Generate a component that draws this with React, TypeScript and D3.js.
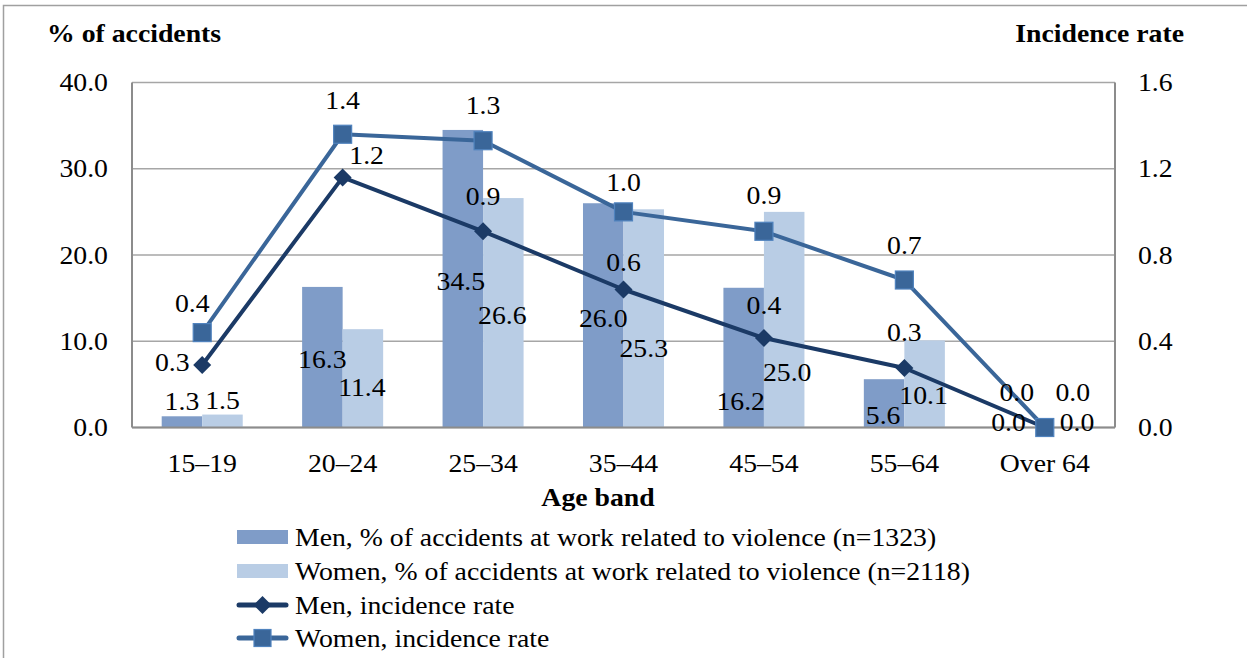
import React from 'react';
import * as d3 from 'd3';

const categories = ['15–19', '20–24', '25–34', '35–44', '45–54', '55–64', 'Over 64'];
const menPct = [1.3, 16.3, 34.5, 26.0, 16.2, 5.6, 0.0];
const womenPct = [1.5, 11.4, 26.6, 25.3, 25.0, 10.1, 0.0];
const menRate = [0.29, 1.16, 0.91, 0.64, 0.415, 0.276, 0.0];
const womenRate = [0.44, 1.36, 1.33, 1.0, 0.91, 0.684, 0.0];
const leftTicks = [0, 10, 20, 30, 40];
const rightTicks = [0, 0.4, 0.8, 1.2, 1.6];
const legendLabels = [
  'Men, % of accidents at work related to violence (n=1323)',
  'Women, % of accidents at work related to violence (n=2118)',
  'Men, incidence rate',
  'Women, incidence rate',
];

// label nudges (px) relative to each mark
const menPctNudge = [[0, -15], [0, 73], [-2, 152], [0, 115], [-3, 114], [-1, 36], [-16, -5.5]];
const womenPctNudge = [[0, -14], [-1, 58], [-1, 117], [0, 139], [3, 161], [-1, 55], [12, -5.5]];
const menRateNudge = [[-30, -2], [24, -22], [0, -35], [0, -27], [0, -33], [0, -36], [-28, -35.5]];
const womenRateNudge = [[-10, -29], [0, -34], [0, -35], [0, -29], [0, -36], [0, -35], [28, -35.5]];

const W = 1247;
const H = 658;
const M = { left: 132, right: 1115, top: 82.5, bottom: 427.5 };
const FONT = "'Liberation Serif', Tinos, 'DejaVu Serif', serif";
const FS = 25;
const SX = 1.11;

const C = {
  menBar: '#7F9CC8',
  womenBar: '#B9CDE5',
  menLine: '#1B3A66',
  womenLine: '#3A6699',
  womenMarkerStroke: '#5083BE',
  grid: '#A6A6A6',
  axis: '#8C8C8C',
};

function T({ x, y, children, anchor = 'middle', bold = false, size = FS }: any) {
  return (
    <text
      transform={`translate(${x},${y}) scale(${SX},1)`}
      textAnchor={anchor}
      dominantBaseline="central"
      style={{ fontFamily: FONT, fontSize: size, fontWeight: bold ? 700 : 400 }}
      fill="#000"
    >
      {children}
    </text>
  );
}

export default function App() {
  const x = d3.scaleBand<string>().domain(categories).range([M.left, M.right]).padding(0);
  const x1 = d3.scaleBand<string>().domain(['men', 'women']).range([0, x.bandwidth()]).paddingInner(0).paddingOuter(0.733);
  const yL = d3.scaleLinear().domain([0, 40]).range([M.bottom, M.top]);
  const yR = d3.scaleLinear().domain([0, 1.6]).range([M.bottom, M.top]);
  const cx = (c: string) => (x(c) as number) + x.bandwidth() / 2;

  const line = d3.line<number>().x((_, i) => cx(categories[i])).y((d) => yR(d));
  const fmt = d3.format('.1f');
  const diamond = (px: number, py: number, r: number) =>
    `M${px},${py - r}L${px + r},${py}L${px},${py + r}L${px - r},${py}Z`;

  const legendRows = [537, 571, 605, 638];

  return (
    <svg width={W} height={H} style={{ position: 'absolute', left: 0, top: 0 }}>
      <rect x={0} y={0} width={W} height={H} fill="#fff" />
      <rect x={3.5} y={5.5} width={W + 10} height={H + 10} fill="none" stroke="#A0A0A0" strokeWidth={1.5} />

      {/* gridlines */}
      {leftTicks.map((t) => (
        <line key={t} x1={M.left} x2={M.right} y1={yL(t)} y2={yL(t)} stroke={C.grid} strokeWidth={1.5} />
      ))}

      {/* bars */}
      {categories.map((c, i) => (
        <g key={c}>
          <rect x={(x(c) as number) + (x1('men') as number)} y={yL(menPct[i])} width={x1.bandwidth()} height={M.bottom - yL(menPct[i])} fill={C.menBar} />
          <rect x={(x(c) as number) + (x1('women') as number)} y={yL(womenPct[i])} width={x1.bandwidth()} height={M.bottom - yL(womenPct[i])} fill={C.womenBar} />
        </g>
      ))}

      {/* axes lines */}
      <line x1={M.left} x2={M.left} y1={M.top} y2={M.bottom} stroke={C.axis} strokeWidth={2} />
      <line x1={M.right} x2={M.right} y1={M.top} y2={M.bottom} stroke={C.axis} strokeWidth={2} />
      <line x1={M.left} x2={M.right} y1={M.bottom} y2={M.bottom} stroke={C.axis} strokeWidth={2} />

      {/* lines */}
      <path d={line(womenRate) as string} fill="none" stroke={C.womenLine} strokeWidth={4} strokeLinejoin="round" />
      <path d={line(menRate) as string} fill="none" stroke={C.menLine} strokeWidth={4} strokeLinejoin="round" />
      {menRate.map((v, i) => (
        <path key={'md' + i} d={diamond(cx(categories[i]), yR(v), 9)} fill={C.menLine} />
      ))}
      {womenRate.map((v, i) => (
        <rect key={'ws' + i} x={cx(categories[i]) - 9} y={yR(v) - 9} width={18} height={18} fill={C.womenLine} stroke={C.womenMarkerStroke} strokeWidth={1.2} />
      ))}

      {/* data labels */}
      {categories.map((c, i) => {
        const mx = (x(c) as number) + (x1('men') as number) + x1.bandwidth() / 2;
        const wx = (x(c) as number) + (x1('women') as number) + x1.bandwidth() / 2;
        return (
          <g key={'lab' + c}>
            <T x={mx + menPctNudge[i][0]} y={yL(menPct[i]) + menPctNudge[i][1]}>{fmt(menPct[i])}</T>
            <T x={wx + womenPctNudge[i][0]} y={yL(womenPct[i]) + womenPctNudge[i][1]}>{fmt(womenPct[i])}</T>
            <T x={cx(c) + menRateNudge[i][0]} y={yR(menRate[i]) + menRateNudge[i][1]}>{fmt(menRate[i])}</T>
            <T x={cx(c) + womenRateNudge[i][0]} y={yR(womenRate[i]) + womenRateNudge[i][1]}>{fmt(womenRate[i])}</T>
          </g>
        );
      })}

      {/* tick labels */}
      {leftTicks.map((t) => (
        <T key={'l' + t} x={108} y={yL(t)} anchor="end">{fmt(t)}</T>
      ))}
      {rightTicks.map((t) => (
        <T key={'r' + t} x={1138} y={yR(t)} anchor="start">{fmt(t)}</T>
      ))}
      {categories.map((c) => (
        <T key={'x' + c} x={cx(c)} y={463}>{c}</T>
      ))}

      {/* axis titles */}
      <T x={47} y={33} anchor="start" bold>% of accidents</T>
      <T x={1184} y={33} anchor="end" bold>Incidence rate</T>
      <T x={598} y={497} bold>Age band</T>

      {/* legend */}
      <rect x={237} y={legendRows[0] - 7} width={51} height={14} fill={C.menBar} />
      <rect x={237} y={legendRows[1] - 7} width={51} height={14} fill={C.womenBar} />
      <line x1={239} x2={286} y1={legendRows[2]} y2={legendRows[2]} stroke={C.menLine} strokeWidth={5} strokeLinecap="round" />
      <path d={diamond(262.5, legendRows[2], 9)} fill={C.menLine} />
      <line x1={239} x2={286} y1={legendRows[3]} y2={legendRows[3]} stroke={C.womenLine} strokeWidth={5} strokeLinecap="round" />
      <rect x={254} y={legendRows[3] - 8.5} width={17} height={17} fill={C.womenLine} stroke={C.womenMarkerStroke} strokeWidth={1.2} />
      {legendLabels.map((l, i) => (
        <T key={l} x={295} y={legendRows[i]} anchor="start">{l}</T>
      ))}
    </svg>
  );
}
